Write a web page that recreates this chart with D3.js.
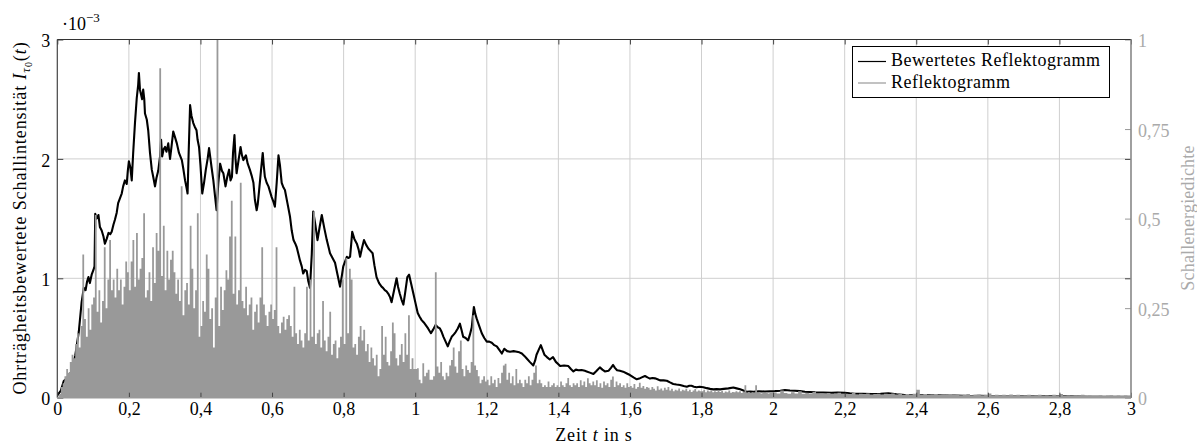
<!DOCTYPE html>
<html>
<head>
<meta charset="utf-8">
<script src="https://cdn.jsdelivr.net/npm/d3@7"></script>
<style>
  html, body { margin: 0; padding: 0; background: #fff; }
  svg { display: block; }
  svg text { font-family: "Liberation Serif", "DejaVu Serif", serif; }
</style>
</head>
<body>
<svg id="chart" width="1197" height="446" font-family="Liberation Serif, DejaVu Serif, serif"></svg>
<script>
// Weighted reflectogram: time in s, intensity in units of 1e-3 (left axis)
const weightedTime = [
  0.000,0.010,0.018,0.026,0.033,0.040,0.050,0.060,0.068,0.074,
  0.079,0.083,0.087,0.091,0.096,0.101,0.104,0.106,0.110,0.115,
  0.119,0.124,0.129,0.133,0.138,0.143,0.148,0.152,0.157,0.161,
  0.166,0.170,0.175,0.180,0.184,0.189,0.194,0.197,0.200,0.204,
  0.208,0.212,0.217,0.222,0.226,0.228,0.231,0.234,0.237,0.240,
  0.243,0.245,0.250,0.254,0.259,0.264,0.268,0.273,0.277,0.282,
  0.287,0.290,0.293,0.297,0.301,0.305,0.310,0.315,0.319,0.324,
  0.329,0.334,0.340,0.348,0.352,0.357,0.361,0.364,0.367,0.371,
  0.375,0.380,0.384,0.389,0.392,0.396,0.400,0.405,0.410,0.415,
  0.420,0.424,0.428,0.431,0.436,0.441,0.445,0.450,0.455,0.460,
  0.464,0.470,0.475,0.480,0.484,0.488,0.491,0.495,0.498,0.501,
  0.507,0.512,0.516,0.520,0.527,0.532,0.538,0.543,0.548,0.552,
  0.557,0.560,0.564,0.569,0.574,0.577,0.580,0.585,0.590,0.595,
  0.599,0.604,0.608,0.613,0.618,0.622,0.627,0.632,0.636,0.643,
  0.650,0.655,0.660,0.665,0.669,0.674,0.678,0.683,0.687,0.692,
  0.697,0.701,0.706,0.711,0.715,0.721,0.727,0.733,0.739,0.746,
  0.753,0.758,0.762,0.769,0.776,0.783,0.790,0.795,0.799,0.804,
  0.809,0.814,0.818,0.821,0.824,0.830,0.837,0.842,0.846,0.851,
  0.857,0.863,0.869,0.875,0.881,0.886,0.892,0.899,0.906,0.910,
  0.915,0.920,0.925,0.930,0.934,0.941,0.948,0.952,0.957,0.962,
  0.967,0.972,0.978,0.983,0.989,0.995,1.001,1.007,1.012,1.018,
  1.024,1.029,1.036,1.044,1.050,1.057,1.063,1.069,1.074,1.079,
  1.085,1.091,1.096,1.102,1.108,1.113,1.119,1.125,1.130,1.134,
  1.141,1.148,1.153,1.158,1.161,1.164,1.168,1.172,1.179,1.186,
  1.193,1.200,1.207,1.214,1.221,1.228,1.235,1.242,1.249,1.257,
  1.265,1.275,1.284,1.291,1.298,1.305,1.311,1.320,1.330,1.335,
  1.339,1.345,1.351,1.356,1.361,1.368,1.376,1.385,1.393,1.400,
  1.405,1.416,1.428,1.435,1.442,1.449,1.456,1.465,1.474,1.479,
  1.488,1.498,1.507,1.516,1.523,1.530,1.540,1.547,1.553,1.558,
  1.564,1.572,1.581,1.590,1.600,1.610,1.619,1.626,1.633,1.642,
  1.649,1.656,1.663,1.670,1.677,1.684,1.694,1.703,1.712,1.721,
  1.730,1.740,1.750,1.759,1.766,1.772,1.779,1.786,1.795,1.805,
  1.815,1.824,1.833,1.842,1.852,1.862,1.875,1.889,1.898,1.908,
  1.917,1.926,1.936,1.945,1.960,1.977,2.005,2.020,2.033,2.047,
  2.061,2.075,2.089,2.103,2.117,2.140,2.163,2.180,2.200,2.214,
  2.228,2.250,2.275,2.300,2.322,2.345,2.368,2.390,2.415,2.440,
  2.461,2.485,2.508,2.530,2.554,2.578,2.601,2.625,2.647,2.690,
  2.740,2.787,2.834,2.880,2.927,2.974,3.000
];
const weightedValue = [
  0.02,0.06,0.14,0.16,0.19,0.22,0.35,0.55,0.80,0.92,
  0.90,0.97,1.01,0.96,1.03,1.07,1.10,1.54,1.50,1.53,
  1.43,1.40,1.35,1.29,1.33,1.38,1.37,1.39,1.45,1.49,
  1.55,1.63,1.67,1.71,1.77,1.82,1.79,1.90,1.98,1.93,
  1.82,2.05,2.30,2.51,2.62,2.72,2.58,2.54,2.50,2.58,
  2.50,2.38,2.33,2.24,2.05,1.91,1.85,1.77,1.84,1.90,
  2.02,2.16,2.02,2.08,2.10,2.06,2.13,2.00,2.10,2.23,
  2.18,2.13,2.05,1.99,1.92,1.82,1.76,1.71,2.05,2.45,
  2.36,2.30,2.27,2.24,2.16,2.10,1.95,1.71,1.80,1.91,
  2.00,2.09,2.00,1.93,1.82,1.68,1.57,1.80,1.96,1.90,
  1.88,1.77,1.85,1.91,1.82,1.85,2.05,2.20,2.00,1.88,
  2.00,2.10,2.03,1.99,2.03,1.96,1.91,1.86,1.80,1.66,
  1.57,1.62,1.74,1.90,2.05,1.94,1.85,1.80,1.77,1.72,
  1.68,1.64,1.60,1.80,2.03,1.95,1.80,1.76,1.74,1.63,
  1.52,1.40,1.32,1.29,1.26,1.20,1.15,1.10,1.04,1.07,
  1.06,0.98,0.92,1.20,1.56,1.45,1.32,1.43,1.53,1.42,
  1.32,1.26,1.21,1.17,1.13,1.03,0.93,1.02,1.10,1.14,
  1.18,1.17,1.18,1.28,1.39,1.33,1.29,1.24,1.18,1.25,
  1.32,1.28,1.25,1.23,1.21,1.11,1.01,0.96,0.93,0.92,
  0.90,0.89,0.87,0.84,0.80,0.90,1.00,0.93,0.87,0.82,
  0.78,0.88,1.01,1.03,0.95,0.87,0.79,0.71,0.68,0.65,
  0.63,0.61,0.58,0.54,0.57,0.61,0.59,0.58,0.55,0.51,
  0.47,0.43,0.47,0.51,0.53,0.55,0.58,0.62,0.56,0.51,
  0.50,0.48,0.53,0.59,0.68,0.76,0.70,0.66,0.60,0.54,
  0.50,0.47,0.47,0.46,0.44,0.43,0.40,0.37,0.41,0.39,
  0.385,0.39,0.385,0.38,0.37,0.35,0.33,0.30,0.27,0.31,
  0.36,0.40,0.44,0.40,0.36,0.34,0.32,0.34,0.30,0.28,
  0.265,0.27,0.265,0.24,0.22,0.235,0.23,0.232,0.225,0.22,
  0.21,0.198,0.225,0.254,0.235,0.22,0.225,0.25,0.274,0.25,
  0.23,0.225,0.218,0.205,0.19,0.17,0.154,0.16,0.17,0.182,
  0.17,0.16,0.165,0.162,0.155,0.145,0.145,0.142,0.128,0.115,
  0.11,0.107,0.098,0.092,0.10,0.10,0.092,0.087,0.092,0.088,
  0.08,0.074,0.07,0.072,0.07,0.074,0.078,0.085,0.078,0.07,
  0.06,0.05,0.052,0.05,0.054,0.052,0.055,0.058,0.064,0.06,
  0.058,0.055,0.05,0.048,0.045,0.043,0.042,0.043,0.042,0.037,
  0.033,0.032,0.030,0.032,0.036,0.028,0.022,0.023,0.022,0.021,
  0.02,0.018,0.017,0.016,0.014,0.015,0.014,0.012,0.011,0.012,
  0.011,0.013,0.011,0.008,0.008,0.008,0.007
];

// Reflectogram (right axis), one sample every 5 ms from 0 s to 1.995 s
const reflectStep = 0.005;
const reflectValues = [
  0.00,0.01,0.03,0.04,0.06,0.08,0.07,0.10,0.12,0.11,
  0.15,0.18,0.14,0.20,0.40,0.22,0.17,0.25,0.19,0.26,
  0.28,0.51,0.24,0.30,0.21,0.27,0.42,0.25,0.33,0.44,
  0.30,0.33,0.28,0.36,0.30,0.33,0.26,0.31,0.38,0.35,
  0.30,0.38,0.44,0.31,0.46,0.33,0.36,0.39,0.515,0.28,
  0.30,0.35,0.27,0.42,0.32,0.46,0.41,0.92,0.34,0.48,
  0.30,0.41,0.33,0.385,0.41,0.35,0.29,0.33,0.27,0.59,
  0.23,0.30,0.32,0.26,0.48,0.36,0.25,0.30,0.515,0.17,
  0.20,0.27,0.24,0.40,0.36,0.22,0.25,0.14,0.28,1.00,
  0.20,0.31,0.245,0.30,0.356,0.33,0.45,0.55,0.29,0.45,
  0.26,0.30,0.60,0.27,0.25,0.31,0.23,0.26,0.28,0.19,
  0.24,0.26,0.21,0.28,0.42,0.26,0.23,0.20,0.24,0.26,
  0.22,0.245,0.42,0.20,0.18,0.21,0.226,0.19,0.22,0.23,
  0.20,0.17,0.31,0.18,0.15,0.19,0.16,0.14,0.18,0.31,
  0.16,0.33,0.17,0.52,0.15,0.18,0.19,0.14,0.27,0.16,
  0.13,0.17,0.24,0.12,0.15,0.16,0.11,0.14,0.17,0.33,
  0.15,0.39,0.18,0.36,0.33,0.14,0.15,0.12,0.17,0.20,
  0.16,0.19,0.13,0.15,0.10,0.14,0.11,0.09,0.12,0.06,
  0.08,0.20,0.12,0.17,0.10,0.09,0.13,0.21,0.18,0.11,
  0.09,0.12,0.15,0.10,0.18,0.12,0.23,0.08,0.11,0.08,
  0.08,0.082,0.05,0.04,0.096,0.06,0.07,0.078,0.05,0.05,
  0.06,0.35,0.087,0.07,0.10,0.06,0.05,0.07,0.06,0.09,
  0.105,0.14,0.087,0.07,0.13,0.16,0.08,0.06,0.09,0.077,
  0.07,0.10,0.23,0.09,0.077,0.06,0.04,0.05,0.06,0.045,
  0.05,0.035,0.06,0.04,0.05,0.03,0.055,0.04,0.07,0.09,
  0.095,0.05,0.07,0.04,0.06,0.035,0.08,0.04,0.05,0.04,
  0.03,0.05,0.04,0.06,0.035,0.05,0.07,0.09,0.04,0.05,
  0.04,0.03,0.035,0.03,0.045,0.03,0.035,0.04,0.03,0.035,
  0.03,0.045,0.035,0.03,0.04,0.055,0.035,0.03,0.04,0.035,
  0.04,0.03,0.049,0.035,0.045,0.03,0.054,0.04,0.035,0.045,
  0.035,0.049,0.03,0.04,0.028,0.045,0.035,0.04,0.03,0.05,
  0.059,0.03,0.045,0.035,0.04,0.03,0.035,0.028,0.04,0.03,
  0.033,0.028,0.038,0.025,0.03,0.042,0.028,0.033,0.025,0.03,
  0.028,0.022,0.03,0.025,0.02,0.032,0.022,0.026,0.02,0.028,
  0.022,0.03,0.02,0.025,0.018,0.022,0.02,0.026,0.018,0.022,
  0.02,0.025,0.018,0.022,0.016,0.02,0.024,0.017,0.02,0.018,
  0.018,0.022,0.015,0.02,0.017,0.021,0.015,0.018,0.016,0.02,
  0.016,0.019,0.014,0.017,0.015,0.02,0.014,0.016,0.015,0.018,
  0.015,0.018,0.013,0.016,0.035,0.014,0.016,0.013,0.015,0.014,
  0.035,0.014,0.016,0.012,0.014,0.013,0.015,0.012,0.013,0.014
];

// Late tail of the reflectogram, one sample every 10 ms from 2 s to 3 s
const tailStart = 2.0;
const tailStep = 0.01;
const tailValues = [
  0.014,0.012,0.02,0.013,0.011,0.015,0.012,0.018,0.011,0.013,
  0.012,0.016,0.01,0.012,0.011,0.013,0.01,0.012,0.014,0.01,
  0.011,0.01,0.013,0.009,0.011,0.01,0.012,0.009,0.01,0.011,
  0.009,0.011,0.01,0.012,0.009,0.01,0.008,0.01,0.009,0.011,
  0.022,0.009,0.01,0.008,0.009,0.01,0.008,0.009,0.008,0.01,
  0.008,0.009,0.007,0.008,0.01,0.007,0.008,0.009,0.007,0.008,
  0.012,0.007,0.008,0.007,0.008,0.007,0.009,0.007,0.008,0.006,
  0.007,0.008,0.006,0.007,0.008,0.006,0.007,0.006,0.008,0.007,
  0.01,0.006,0.007,0.006,0.007,0.006,0.008,0.006,0.007,0.006,
  0.006,0.007,0.005,0.006,0.007,0.005,0.006,0.005,0.006,0.005,
  0.005
];

const xTicks = [0, 0.2, 0.4, 0.6, 0.8, 1, 1.2, 1.4, 1.6, 1.8, 2, 2.2, 2.4, 2.6, 2.8, 3];
const leftTicks = [0, 1, 2, 3];
const rightTicks = [0, 0.25, 0.5, 0.75, 1];
const legendLabels = ["Bewertetes Reflektogramm", "Reflektogramm"];

const FONT = "Liberation Serif, DejaVu Serif, serif";
const svg = d3.select("#chart");
const plot = { left: 57.3, right: 1131, top: 39.5, bottom: 397.7 };

const x = d3.scaleLinear().domain([0, 3]).range([plot.left, plot.right]);
const yL = d3.scaleLinear().domain([0, 3]).range([plot.bottom, plot.top]);
const yR = d3.scaleLinear().domain([0, 1]).range([plot.bottom, plot.top]);
const comma = v => String(v).replace(".", ",");

const GRAY = "#999999";
const FS = 18;

svg.append("defs").append("clipPath").attr("id", "plotClip")
  .append("rect")
  .attr("x", plot.left).attr("y", plot.top)
  .attr("width", plot.right - plot.left).attr("height", plot.bottom - plot.top);

// grid
const grid = svg.append("g").attr("stroke", "#cfcfcf").attr("stroke-width", 1);
grid.selectAll("line.v").data(xTicks.slice(1, -1)).join("line")
  .attr("x1", d => x(d)).attr("x2", d => x(d))
  .attr("y1", plot.top).attr("y2", plot.bottom);
grid.selectAll("line.h").data(leftTicks.slice(1, -1)).join("line")
  .attr("x1", plot.left).attr("x2", plot.right)
  .attr("y1", d => yL(d)).attr("y2", d => yL(d));

const content = svg.append("g").attr("clip-path", "url(#plotClip)");

// weighted reflectogram
const weighted = weightedTime.map((t, i) => [t, weightedValue[i]]);
content.append("path")
  .datum(weighted)
  .attr("fill", "none")
  .attr("stroke", "#000")
  .attr("stroke-width", 2.1)
  .attr("stroke-linejoin", "round")
  .attr("d", d3.line().x(d => x(d[0])).y(d => yL(d[1])));

// reflectogram: each sample holds its level until the next one
const impulses = reflectValues.map((v, i) => [i * reflectStep, v])
  .concat(tailValues.map((v, i) => [tailStart + i * tailStep, v]));
content.append("path")
  .datum(impulses)
  .attr("fill", GRAY)
  .attr("stroke", "none")
  .attr("d", d3.area().curve(d3.curveStepAfter)
    .x(d => x(d[0])).y0(yR(0)).y1(d => yR(d[1])));

function styleAxis(g) {
  g.attr("font-family", FONT).attr("font-size", FS);
  g.select(".domain").remove();
}

// bottom axis
const gx = svg.append("g").attr("transform", `translate(0,${plot.bottom})`)
  .call(d3.axisBottom(x).tickValues(xTicks).tickSize(-5).tickPadding(5).tickFormat(comma));
styleAxis(gx);
gx.selectAll(".tick line").attr("stroke", "#444");
gx.selectAll(".tick text").attr("fill", "#000");

// top mirrored ticks
const gxt = svg.append("g").attr("transform", `translate(0,${plot.top})`)
  .call(d3.axisTop(x).tickValues(xTicks).tickSize(-5).tickFormat(""));
gxt.select(".domain").remove();
gxt.selectAll(".tick line").attr("stroke", "#444");

// left axis
const gyl = svg.append("g").attr("transform", `translate(${plot.left},0)`)
  .call(d3.axisLeft(yL).tickValues(leftTicks).tickSize(-6).tickPadding(7).tickFormat(d3.format("d")));
styleAxis(gyl);
gyl.selectAll(".tick line").attr("stroke", "#444");
gyl.selectAll(".tick text").attr("fill", "#000").attr("dy", "0.4em");

// left ticks mirrored on the right side
const gylr = svg.append("g").attr("transform", `translate(${plot.right},0)`)
  .call(d3.axisRight(yL).tickValues(leftTicks.slice(1, -1)).tickSize(-6).tickFormat(""));
gylr.select(".domain").remove();
gylr.selectAll(".tick line").attr("stroke", "#444");

// right axis
const gyr = svg.append("g").attr("transform", `translate(${plot.right},0)`)
  .call(d3.axisRight(yR).tickValues(rightTicks).tickSize(-6).tickPadding(7).tickFormat(comma));
styleAxis(gyr);
gyr.selectAll(".tick line").attr("stroke", "#999");
gyr.selectAll(".tick text").attr("fill", "#aaa").attr("dy", "0.4em");

// frame
svg.append("line").attr("x1", plot.left).attr("x2", plot.right)
  .attr("y1", plot.top).attr("y2", plot.top).attr("stroke", "#333").attr("stroke-width", 1.2);
svg.append("line").attr("x1", plot.left).attr("x2", plot.left)
  .attr("y1", plot.top).attr("y2", plot.bottom).attr("stroke", "#444").attr("stroke-width", 1.2);
svg.append("line").attr("x1", plot.left).attr("x2", plot.right)
  .attr("y1", plot.bottom).attr("y2", plot.bottom).attr("stroke", "#999").attr("stroke-width", 1.6);
svg.append("line").attr("x1", plot.right).attr("x2", plot.right)
  .attr("y1", plot.top).attr("y2", plot.bottom).attr("stroke", "#888").attr("stroke-width", 1.6);

// scale factor above the left axis
const sf = svg.append("text").attr("x", 62).attr("y", 30)
  .attr("font-family", FONT).attr("font-size", FS).attr("fill", "#000");
sf.append("tspan").text("·10");
sf.append("tspan").attr("dy", -8).attr("font-size", 13).text("−3");

// left axis title
const yt = svg.append("text")
  .attr("transform", `translate(26,218) rotate(-90)`)
  .attr("text-anchor", "middle").attr("font-family", FONT).attr("font-size", FS)
  .attr("letter-spacing", 0.9).attr("fill", "#000");
yt.append("tspan").text("Ohrträgheitsbewertete Schallintensität ");
yt.append("tspan").attr("font-style", "italic").text("I");
yt.append("tspan").attr("font-style", "italic").attr("font-size", 13).attr("dy", 4).text("τ");
yt.append("tspan").attr("font-size", 10).attr("dy", 2).text("0");
yt.append("tspan").attr("dy", -6).text("(");
yt.append("tspan").attr("font-style", "italic").text("t");
yt.append("tspan").text(")");

// right axis title
svg.append("text")
  .attr("transform", `translate(1194,218) rotate(-90)`)
  .attr("text-anchor", "middle").attr("font-family", FONT).attr("font-size", FS)
  .attr("letter-spacing", 0.2).attr("fill", "#aaa")
  .text("Schallenergiedichte");

// x axis title
const xt = svg.append("text").attr("x", 594).attr("y", 441)
  .attr("text-anchor", "middle").attr("font-family", FONT).attr("font-size", FS)
  .attr("letter-spacing", 0.8).attr("fill", "#000");
xt.append("tspan").text("Zeit ");
xt.append("tspan").attr("font-style", "italic").text("t");
xt.append("tspan").text(" in s");

// legend
const lg = svg.append("g");
lg.append("rect").attr("x", 852.5).attr("y", 46.5).attr("width", 257).attr("height", 51)
  .attr("fill", "#fff").attr("stroke", "#000").attr("stroke-width", 1);
const legendColors = ["#000", GRAY];
legendLabels.forEach((label, i) => {
  const cy = 61.5 + i * 21.5;
  lg.append("line").attr("x1", 858).attr("x2", 886).attr("y1", cy).attr("y2", cy)
    .attr("stroke", legendColors[i]).attr("stroke-width", 1.2);
  lg.append("text").attr("x", 891).attr("y", cy + 4.5)
    .attr("font-family", FONT).attr("font-size", FS).attr("letter-spacing", 0.5)
    .attr("fill", "#000").text(label);
});
</script>
</body>
</html>
